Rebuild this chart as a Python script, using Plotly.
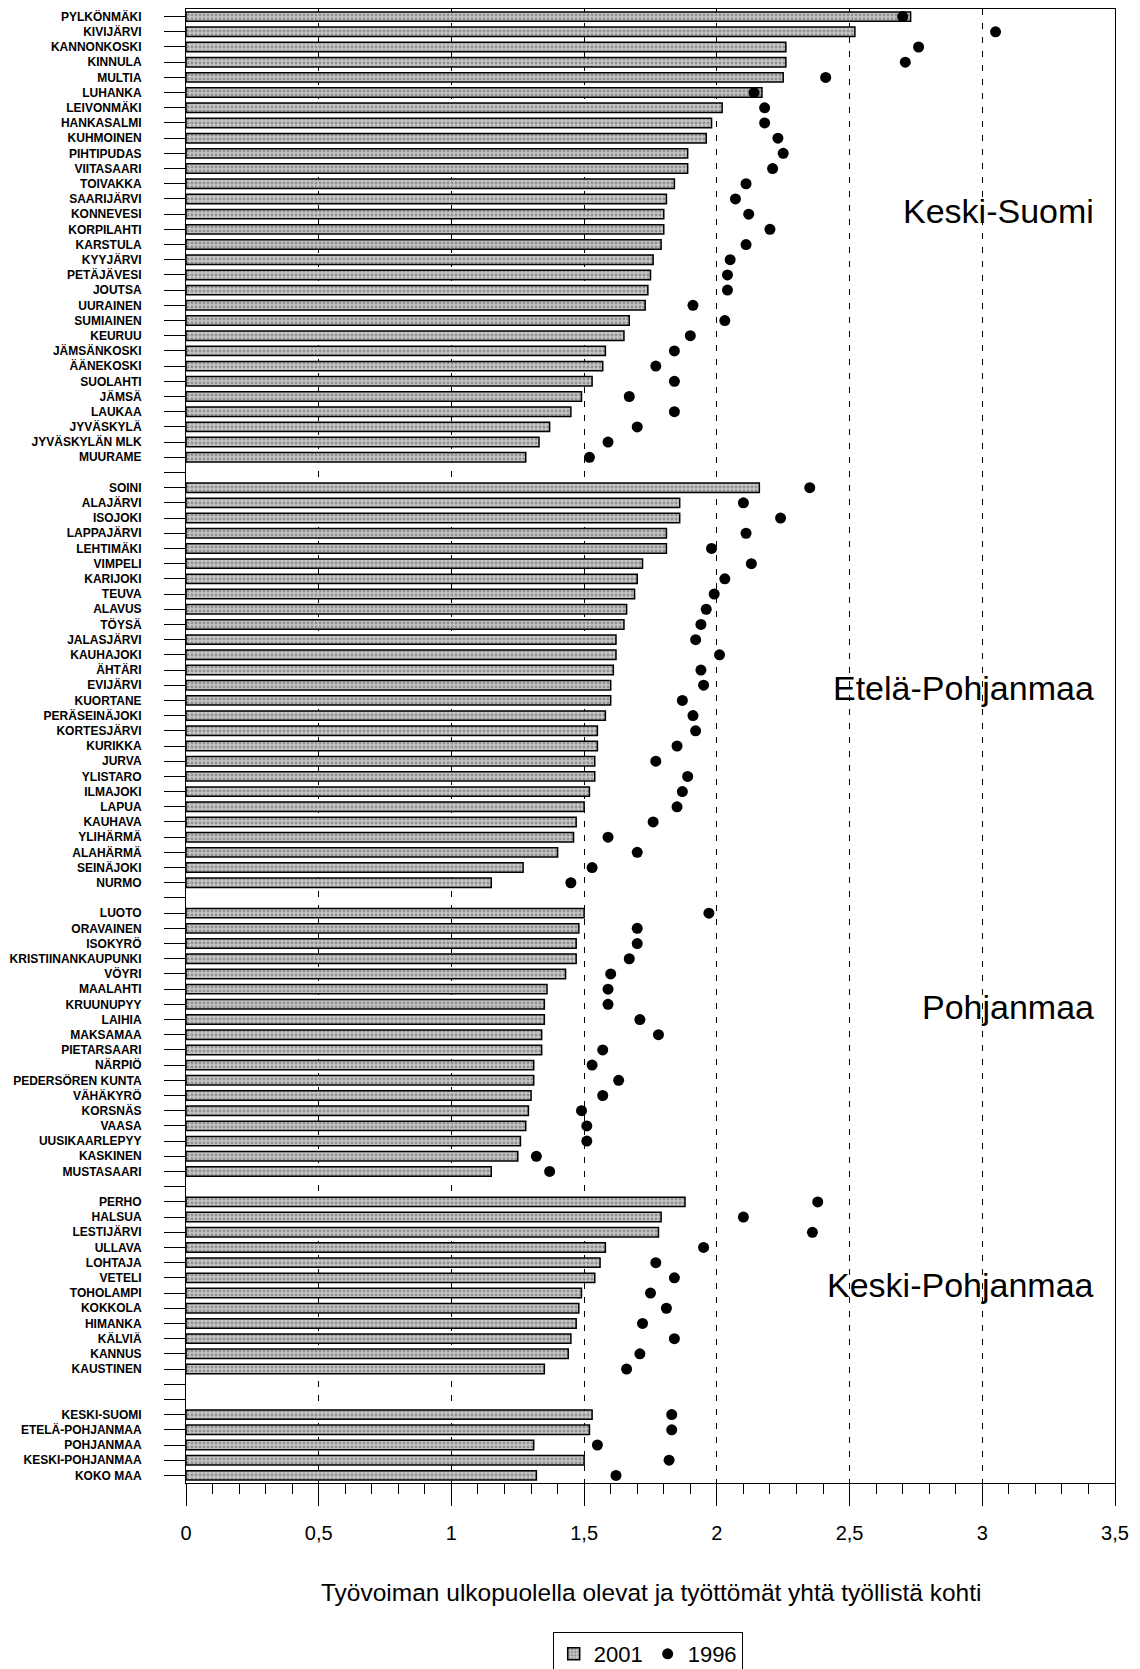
import plotly.graph_objects as go

# Keski-Suomi
ks_names = ["PYLKÖNMÄKI", "KIVIJÄRVI", "KANNONKOSKI", "KINNULA", "MULTIA", "LUHANKA",
            "LEIVONMÄKI", "HANKASALMI", "KUHMOINEN", "PIHTIPUDAS", "VIITASAARI", "TOIVAKKA",
            "SAARIJÄRVI", "KONNEVESI", "KORPILAHTI", "KARSTULA", "KYYJÄRVI", "PETÄJÄVESI",
            "JOUTSA", "UURAINEN", "SUMIAINEN", "KEURUU", "JÄMSÄNKOSKI", "ÄÄNEKOSKI",
            "SUOLAHTI", "JÄMSÄ", "LAUKAA", "JYVÄSKYLÄ", "JYVÄSKYLÄN MLK", "MUURAME"]
ks_2001 = [2.73, 2.52, 2.26, 2.26, 2.25, 2.17, 2.02, 1.98, 1.96, 1.89, 1.89, 1.84,
           1.81, 1.80, 1.80, 1.79, 1.76, 1.75, 1.74, 1.73, 1.67, 1.65, 1.58, 1.57,
           1.53, 1.49, 1.45, 1.37, 1.33, 1.28]
ks_1996 = [2.70, 3.05, 2.76, 2.71, 2.41, 2.14, 2.18, 2.18, 2.23, 2.25, 2.21, 2.11,
           2.07, 2.12, 2.20, 2.11, 2.05, 2.04, 2.04, 1.91, 2.03, 1.90, 1.84, 1.77,
           1.84, 1.67, 1.84, 1.70, 1.59, 1.52]

# Etelä-Pohjanmaa
ep_names = ["SOINI", "ALAJÄRVI", "ISOJOKI", "LAPPAJÄRVI", "LEHTIMÄKI", "VIMPELI",
            "KARIJOKI", "TEUVA", "ALAVUS", "TÖYSÄ", "JALASJÄRVI", "KAUHAJOKI", "ÄHTÄRI",
            "EVIJÄRVI", "KUORTANE", "PERÄSEINÄJOKI", "KORTESJÄRVI", "KURIKKA", "JURVA",
            "YLISTARO", "ILMAJOKI", "LAPUA", "KAUHAVA", "YLIHÄRMÄ", "ALAHÄRMÄ",
            "SEINÄJOKI", "NURMO"]
ep_2001 = [2.16, 1.86, 1.86, 1.81, 1.81, 1.72, 1.70, 1.69, 1.66, 1.65, 1.62, 1.62, 1.61,
           1.60, 1.60, 1.58, 1.55, 1.55, 1.54, 1.54, 1.52, 1.50, 1.47, 1.46, 1.40,
           1.27, 1.15]
ep_1996 = [2.35, 2.10, 2.24, 2.11, 1.98, 2.13, 2.03, 1.99, 1.96, 1.94, 1.92, 2.01, 1.94,
           1.95, 1.87, 1.91, 1.92, 1.85, 1.77, 1.89, 1.87, 1.85, 1.76, 1.59, 1.70,
           1.53, 1.45]

# Pohjanmaa
po_names = ["LUOTO", "ORAVAINEN", "ISOKYRÖ", "KRISTIINANKAUPUNKI", "VÖYRI", "MAALAHTI",
            "KRUUNUPYY", "LAIHIA", "MAKSAMAA", "PIETARSAARI", "NÄRPIÖ", "PEDERSÖREN KUNTA",
            "VÄHÄKYRÖ", "KORSNÄS", "VAASA", "UUSIKAARLEPYY", "KASKINEN", "MUSTASAARI"]
po_2001 = [1.50, 1.48, 1.47, 1.47, 1.43, 1.36, 1.35, 1.35, 1.34, 1.34, 1.31, 1.31,
           1.30, 1.29, 1.28, 1.26, 1.25, 1.15]
po_1996 = [1.97, 1.70, 1.70, 1.67, 1.60, 1.59, 1.59, 1.71, 1.78, 1.57, 1.53, 1.63,
           1.57, 1.49, 1.51, 1.51, 1.32, 1.37]

# Keski-Pohjanmaa
kp_names = ["PERHO", "HALSUA", "LESTIJÄRVI", "ULLAVA", "LOHTAJA", "VETELI", "TOHOLAMPI",
            "KOKKOLA", "HIMANKA", "KÄLVIÄ", "KANNUS", "KAUSTINEN"]
kp_2001 = [1.88, 1.79, 1.78, 1.58, 1.56, 1.54, 1.49, 1.48, 1.47, 1.45, 1.44, 1.35]
kp_1996 = [2.38, 2.10, 2.36, 1.95, 1.77, 1.84, 1.75, 1.81, 1.72, 1.84, 1.71, 1.66]

# Maakunnat ja koko maa
tot_names = ["KESKI-SUOMI", "ETELÄ-POHJANMAA", "POHJANMAA", "KESKI-POHJANMAA", "KOKO MAA"]
tot_2001 = [1.53, 1.52, 1.31, 1.50, 1.32]
tot_1996 = [1.83, 1.83, 1.55, 1.82, 1.62]

region_titles = ["Keski-Suomi", "Etelä-Pohjanmaa", "Pohjanmaa", "Keski-Pohjanmaa"]

x_tickvals = [0, 0.5, 1, 1.5, 2, 2.5, 3, 3.5]
x_ticktext = ["0", "0,5", "1", "1,5", "2", "2,5", "3", "3,5"]
x_title = "Työvoiman ulkopuolella olevat ja työttömät yhtä työllistä kohti"

# rivit yhteen, tyhjät välirivit ryhmien väliin
groups = [(ks_names, ks_2001, ks_1996, 1), (ep_names, ep_2001, ep_1996, 1),
          (po_names, po_2001, po_1996, 1), (kp_names, kp_2001, kp_1996, 2),
          (tot_names, tot_2001, tot_1996, 0)]
labels, v2001, v1996 = [], [], []
for names, a, b, gap in groups:
    labels += names + [""] * gap
    v2001 += a + [None] * gap
    v1996 += b + [None] * gap
rows = list(range(len(labels)))

label_font = "Liberation Sans, Arial, sans-serif"

fig = go.Figure()

fig.add_trace(go.Bar(
    x=v2001, y=rows, orientation="h", name="2001", width=0.62,
    marker=dict(color="#bdbdbd", line=dict(color="black", width=1.5),
                pattern=dict(shape=".", fgcolor="#5c5c5c", bgcolor="#c6c6c6",
                             size=4, solidity=0.4)),
))

fig.add_trace(go.Scatter(
    x=v1996, y=rows, mode="markers", name="1996",
    marker=dict(color="black", size=11, symbol="circle"),
))

# maakuntien nimet
region_rows = [12.8, 44.2, 65.2, 83.5]
for title, r in zip(region_titles, region_rows):
    fig.add_annotation(x=3.43, y=r, xref="x", yref="y", text=title, showarrow=False,
                       xanchor="right", yanchor="middle",
                       font=dict(family=label_font, size=34, color="black"))

fig.add_annotation(x=0.5, y=-0.0746, xref="paper", yref="paper", text=x_title,
                   showarrow=False, xanchor="center", yanchor="middle",
                   font=dict(family=label_font, size=24.5, color="black"))

fig.update_layout(
    width=1140, height=1669,
    margin=dict(l=186, r=25, t=9, b=186, autoexpand=False),
    plot_bgcolor="white", paper_bgcolor="white",
    showlegend=True,
    legend=dict(orientation="h", x=0.497, y=-0.116, xanchor="center", yanchor="middle",
                bordercolor="black", borderwidth=1,
                font=dict(family=label_font, size=22, color="black"),
                itemwidth=30, tracegroupgap=0),
    xaxis=dict(range=[0, 3.5], tickvals=x_tickvals, ticktext=x_ticktext,
               showgrid=True, gridcolor="black", gridwidth=1, griddash="6px,8px",
               zeroline=False, showline=True, linecolor="black", linewidth=1, mirror=True,
               ticks="outside", ticklen=22, tickcolor="black", tickwidth=1,
               ticklabelstandoff=10,
               tickfont=dict(family=label_font, size=20, color="black"),
               minor=dict(tickmode="linear", tick0=0, dtick=0.1, ticks="outside",
                          ticklen=10, tickcolor="black", tickwidth=1, showgrid=False)),
    yaxis=dict(range=[len(labels) - 0.5, -0.5], tickmode="array", tickvals=rows,
               ticktext=labels, showgrid=False, zeroline=False,
               showline=True, linecolor="black", linewidth=1, mirror=True,
               ticks="outside", ticklen=21, tickcolor="black", tickwidth=1,
               ticklabelstandoff=20,
               tickfont=dict(family=label_font, size=12, color="black", weight="bold")),
)

fig.write_html("out.html", config={"displayModeBar": False},
               post_script="document.body.style.margin='0';")
